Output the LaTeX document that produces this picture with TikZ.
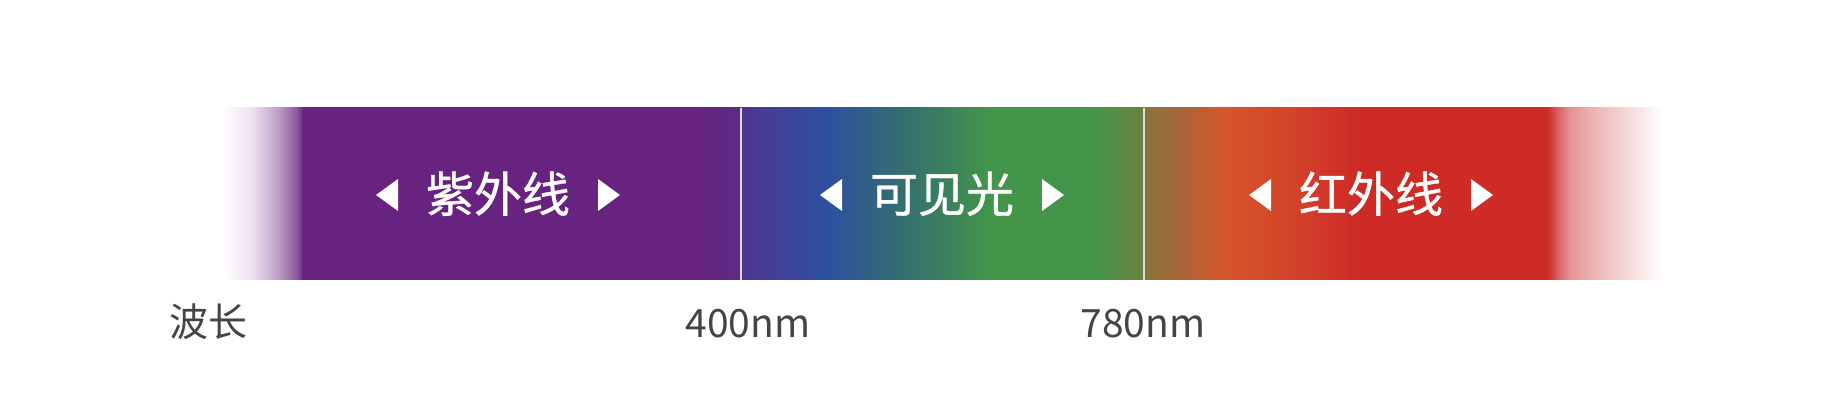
\documentclass[tikz,border=0pt]{standalone}
\usepackage{fontspec}
\setmainfont{Noto Sans CJK SC}
\newfontfamily\bandfont{Noto Sans CJK SC}[FakeBold=0.8]
\usetikzlibrary{calc}
\definecolor{axisgray}{HTML}{444444}
\definecolor{dividercol}{HTML}{DCDCDC}
\definecolor{ua}{HTML}{EFE3F1}
\definecolor{ub}{HTML}{D3BBD9}
\definecolor{uc}{HTML}{B08DBC}
\definecolor{ud}{HTML}{8C559B}
\definecolor{uvpurple}{HTML}{68227F}
\definecolor{ue}{HTML}{5C2B86}
\definecolor{va}{HTML}{4F3690}
\definecolor{vb}{HTML}{2D50A0}
\definecolor{vc}{HTML}{35706E}
\definecolor{vgreen}{HTML}{43954A}
\definecolor{vd}{HTML}{6E8040}
\definecolor{ia}{HTML}{86753A}
\definecolor{ib}{HTML}{A8663A}
\definecolor{iorange}{HTML}{D6562A}
\definecolor{ic}{HTML}{D3432A}
\definecolor{ired}{HTML}{CE2B27}
\definecolor{id}{HTML}{DA5E5E}
\definecolor{ie}{HTML}{E59494}
\definecolor{iff}{HTML}{EBB0B0}
\definecolor{ig}{HTML}{F2CFCF}
\definecolor{ih}{HTML}{F9EAEA}
\newcommand\bandseg[4]{\shade[left color=#2,right color=#4] (#1,108) rectangle (#3+0.6,280);}
\newcommand\arrowpair[1]{%
  \fill[white] ($(#1.base)+(-122,-17)$) -- ($(#1.base)+(-100,-33)$) -- ($(#1.base)+(-100,-1)$) -- cycle;
  \fill[white] ($(#1.base)+(122,-17)$) -- ($(#1.base)+(100,-33)$) -- ($(#1.base)+(100,-1)$) -- cycle;}
\begin{document}
\begin{tikzpicture}[x=1pt,y=-1pt,
  bandlabel/.style={font=\bandfont\fontsize{48}{48}\selectfont, text=white, anchor=base, inner sep=0pt},
  axislabel/.style={font=\fontsize{39}{39}\selectfont, text=axisgray, anchor=base, inner sep=0pt},
  divider/.style={draw=dividercol, line width=1.6pt}]
\useasboundingbox[fill=white] (0,0) rectangle (1821,419);
% ultraviolet fade-in
\bandseg{222}{white}{250}{ua}
\bandseg{250}{ua}{267}{ub}
\bandseg{267}{ub}{283}{uc}
\bandseg{283}{uc}{297}{ud}
\bandseg{297}{ud}{303}{uvpurple}
\bandseg{303}{uvpurple}{690}{uvpurple}
\bandseg{690}{uvpurple}{741}{ue}
% visible
\bandseg{741}{va}{827}{vb}
\bandseg{827}{vb}{907}{vc}
\bandseg{907}{vc}{990}{vgreen}
\bandseg{990}{vgreen}{1093}{vgreen}
\bandseg{1093}{vgreen}{1144}{vd}
% infrared
\bandseg{1144}{ia}{1180}{ib}
\bandseg{1180}{ib}{1223}{iorange}
\bandseg{1223}{iorange}{1290}{ic}
\bandseg{1290}{ic}{1357}{ired}
\bandseg{1357}{ired}{1547}{ired}
\bandseg{1547}{ired}{1557}{id}
\bandseg{1557}{id}{1570}{ie}
\bandseg{1570}{ie}{1590}{iff}
\bandseg{1590}{iff}{1617}{ig}
\bandseg{1617}{ig}{1643}{ih}
\shade[left color=ih,right color=white] (1643,108) rectangle (1663,280);
% dividers
\draw[divider] (741,108) -- (741,280);
\draw[divider] (1144,108) -- (1144,280);
% band labels
\node[bandlabel] (uvl) at (498,212) {紫外线};
\node[bandlabel] (visl) at (942,212) {可见光};
\node[bandlabel] (irl) at (1371,212) {红外线};
\arrowpair{uvl}
\arrowpair{visl}
\arrowpair{irl}
% axis labels
\node[axislabel] (wl) at (208,337) {波长};
\node[axislabel] (n400) at (748,338) {400nm};
\node[axislabel] (n780) at (1143,338) {780nm};
\end{tikzpicture}
\end{document}
